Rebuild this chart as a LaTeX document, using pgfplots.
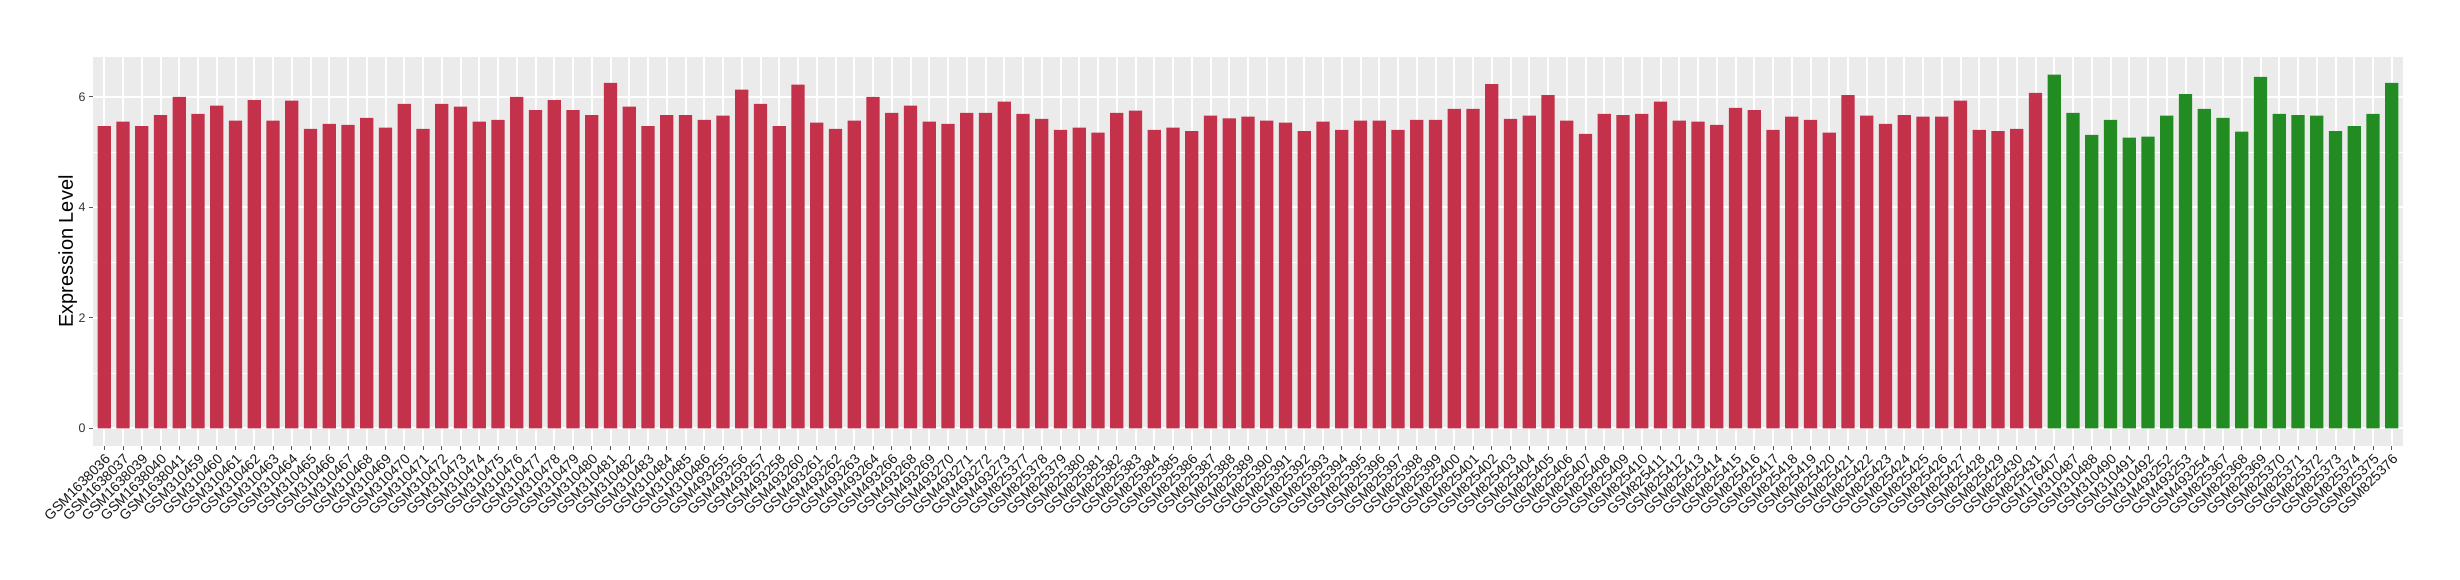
\documentclass[border=0pt]{standalone}
\usepackage{fontspec}
\setmainfont{Liberation Sans}
\usepackage{pgfplots}
\pgfplotsset{compat=1.18}
\definecolor{barred}{HTML}{C3314A}
\definecolor{bargreen}{HTML}{228B22}
\definecolor{panelbg}{HTML}{EBEBEB}
\begin{document}
\begin{tikzpicture}
\begin{axis}[
  scale only axis,
  width=1155pt, height=194.5pt,
  xmin=-0.6, xmax=122.6,
  ymin=-0.32, ymax=6.72,
  ybar, bar width=0.7, bar shift=0pt,
  axis background/.style={fill=panelbg},
  axis line style={draw=none},
  xtick pos=bottom, ytick pos=left,
  tick align=outside,
  major tick length=2pt,
  minor tick length=0pt,
  tick style={black!65, line width=0.5pt},
  xmajorgrids, ymajorgrids, yminorgrids,
  major grid style={white, line width=1pt},
  minor grid style={white, line width=0.5pt},
  ytick={0,2,4,6},
  minor ytick={1,3,5},
  xtick={0,...,122},
  /pgf/number format/assume math mode=true,
  yticklabel style={font=\fontsize{6.2}{7}\selectfont, text=black!80, inner sep=1.5pt},
  xticklabel style={font=\fontsize{7}{8}\selectfont, text=black!90, rotate=45, anchor=north east, inner sep=1pt},
  ylabel={Expression Level},
  ylabel style={font=\fontsize{10}{12}\selectfont, at={(axis description cs:-0.00866,0.5)}, anchor=base},
  xticklabels={GSM1638036,GSM1638037,GSM1638039,GSM1638040,GSM1638041,
GSM310459,GSM310460,GSM310461,GSM310462,GSM310463,GSM310464,GSM310465,GSM310466,GSM310467,GSM310468,GSM310469,GSM310470,GSM310471,GSM310472,GSM310473,GSM310474,GSM310475,GSM310476,GSM310477,GSM310478,GSM310479,GSM310480,GSM310481,GSM310482,GSM310483,GSM310484,GSM310485,GSM310486,
GSM493255,GSM493256,GSM493257,GSM493258,GSM493260,GSM493261,GSM493262,GSM493263,GSM493264,GSM493266,GSM493268,GSM493269,GSM493270,GSM493271,GSM493272,GSM493273,
GSM825377,GSM825378,GSM825379,GSM825380,GSM825381,GSM825382,GSM825383,GSM825384,GSM825385,GSM825386,GSM825387,GSM825388,GSM825389,GSM825390,GSM825391,GSM825392,GSM825393,GSM825394,GSM825395,GSM825396,GSM825397,GSM825398,GSM825399,GSM825400,GSM825401,GSM825402,GSM825403,GSM825404,GSM825405,GSM825406,GSM825407,GSM825408,GSM825409,GSM825410,GSM825411,GSM825412,GSM825413,GSM825414,GSM825415,GSM825416,GSM825417,GSM825418,GSM825419,GSM825420,GSM825421,GSM825422,GSM825423,GSM825424,GSM825425,GSM825426,GSM825427,GSM825428,GSM825429,GSM825430,GSM825431,
GSM176407,GSM310487,GSM310488,GSM310490,GSM310491,GSM310492,GSM493252,GSM493253,GSM493254,
GSM825367,GSM825368,GSM825369,GSM825370,GSM825371,GSM825372,GSM825373,GSM825374,GSM825375,GSM825376},
]
\addplot[fill=barred, draw=none] coordinates {
(0,5.47) (1,5.55) (2,5.47) (3,5.67) (4,6.00) (5,5.69) (6,5.84) (7,5.57) (8,5.94) (9,5.57)
(10,5.93) (11,5.42) (12,5.51) (13,5.49) (14,5.62) (15,5.44) (16,5.87) (17,5.42) (18,5.87) (19,5.82)
(20,5.55) (21,5.58) (22,6.00) (23,5.76) (24,5.94) (25,5.76) (26,5.67) (27,6.25) (28,5.82) (29,5.47)
(30,5.67) (31,5.67) (32,5.58) (33,5.66) (34,6.13) (35,5.87) (36,5.47) (37,6.22) (38,5.53) (39,5.42)
(40,5.57) (41,6.00) (42,5.71) (43,5.84) (44,5.55) (45,5.51) (46,5.71) (47,5.71) (48,5.91) (49,5.69)
(50,5.60) (51,5.40) (52,5.44) (53,5.35) (54,5.71) (55,5.75) (56,5.40) (57,5.44) (58,5.38) (59,5.66)
(60,5.61) (61,5.64) (62,5.57) (63,5.53) (64,5.38) (65,5.55) (66,5.40) (67,5.57) (68,5.57) (69,5.40)
(70,5.58) (71,5.58) (72,5.78) (73,5.78) (74,6.23) (75,5.60) (76,5.66) (77,6.03) (78,5.57) (79,5.33)
(80,5.69) (81,5.67) (82,5.69) (83,5.91) (84,5.57) (85,5.55) (86,5.49) (87,5.80) (88,5.76) (89,5.40)
(90,5.64) (91,5.58) (92,5.35) (93,6.03) (94,5.66) (95,5.51) (96,5.67) (97,5.64) (98,5.64) (99,5.93)
(100,5.40) (101,5.38) (102,5.42) (103,6.07)
};
\addplot[fill=bargreen, draw=none] coordinates {
(104,6.40) (105,5.71) (106,5.31) (107,5.58) (108,5.26) (109,5.28) (110,5.66) (111,6.05) (112,5.78)
(113,5.62) (114,5.37) (115,6.36) (116,5.69) (117,5.67) (118,5.66) (119,5.38) (120,5.47) (121,5.69) (122,6.25)
};
\end{axis}
\path[use as bounding box] ([shift={(-46.5pt,-67pt)}]current axis.south west) rectangle ([shift={(28.5pt,28.5pt)}]current axis.north east);
\end{tikzpicture}
\end{document}
